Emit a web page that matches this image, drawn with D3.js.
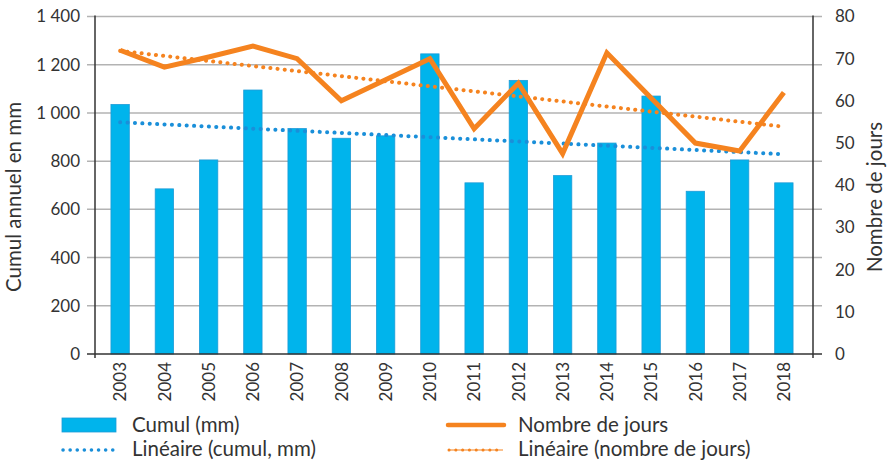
<!DOCTYPE html>
<html>
<head>
<meta charset="utf-8">
<script src="https://cdn.jsdelivr.net/npm/d3@7/dist/d3.min.js"></script>
<style>
  html, body { margin: 0; padding: 0; background: #fff; }
  svg text { font-family: Lato, "Open Sans", sans-serif; fill: #333; }
</style>
</head>
<body>
<svg id="chart" width="890" height="460"></svg>
<script>
// Annual rainfall totals and number of rainy days, 2003-2018
const years = ["2003","2004","2005","2006","2007","2008","2009","2010",
               "2011","2012","2013","2014","2015","2016","2017","2018"];
const cumulMm = [1035, 685, 805, 1095, 935, 895, 905, 1245,
                 710, 1135, 740, 875, 1070, 675, 805, 710];
const nbJours = [72, 68, 70.4, 73, 70, 60, 65, 70,
                 53.4, 64.2, 47.5, 71.4, 60.7, 50, 48.1, 62];
const leftTicks = [0, 200, 400, 600, 800, 1000, 1200, 1400];
const rightTicks = [0, 10, 20, 30, 40, 50, 60, 70, 80];

const svg = d3.select("#chart");
const plotLeft = 95, plotRight = 813, plotTop = 16.5, plotBottom = 354;

const x = d3.scaleBand().domain(years).range([98, 806])
  .paddingInner(0.585).paddingOuter(0.2925);
const yL = d3.scaleLinear().domain([0, 1400]).range([plotBottom, plotTop]);
const yR = d3.scaleLinear().domain([0, 80]).range([plotBottom, plotTop]);
const cx = d => x(d) + x.bandwidth() / 2;

// French thousands separator (space)
const fmt = v => v >= 1000 ? d3.format(",")(v).replace(",", " ") : String(v);

// Gridlines
svg.append("g").selectAll("line").data(leftTicks.filter(d => d > 0)).join("line")
  .attr("x1", plotLeft - 8).attr("x2", plotRight + 9)
  .attr("y1", d => yL(d)).attr("y2", d => yL(d))
  .attr("stroke", "#b3b3b3").attr("stroke-width", 1.5);

// Bars
svg.append("g").selectAll("rect").data(years).join("rect")
  .attr("x", d => x(d)).attr("width", x.bandwidth())
  .attr("y", (d, i) => yL(cumulMm[i]))
  .attr("height", (d, i) => plotBottom - yL(cumulMm[i]))
  .attr("fill", "#00b4ec").attr("stroke", "#1d9bd7").attr("stroke-width", 0.8);

// Linear trend (least squares) helper
function trend(vals) {
  const n = vals.length, mx = (n - 1) / 2, my = d3.mean(vals);
  let sxy = 0, sxx = 0;
  vals.forEach((v, i) => { sxy += (i - mx) * (v - my); sxx += (i - mx) * (i - mx); });
  const b = sxy / sxx;
  return vals.map((v, i) => my + b * (i - mx));
}

const lineL = d3.line().x((d, i) => cx(years[i])).y(d => yL(d));
const lineR = d3.line().x((d, i) => cx(years[i])).y(d => yR(d));

// Trend of rainfall total
svg.append("path").datum(trend(cumulMm)).attr("d", lineL)
  .attr("fill", "none").attr("stroke", "#1a8fd9").attr("stroke-width", 4)
  .attr("stroke-linecap", "round").attr("stroke-dasharray", "0.1 7.3");

// Trend of number of days
svg.append("path").datum(trend(nbJours)).attr("d", lineR)
  .attr("fill", "none").attr("stroke", "#f5831f").attr("stroke-width", 4)
  .attr("stroke-linecap", "round").attr("stroke-dasharray", "0.1 7.1");

// Number of days
svg.append("path").datum(nbJours).attr("d", lineR)
  .attr("fill", "none").attr("stroke", "#f5831f").attr("stroke-width", 5)
  .attr("stroke-linejoin", "miter");

// Axes frame
svg.append("line").attr("x1", plotLeft - 8).attr("x2", plotRight + 9)
  .attr("y1", plotBottom).attr("y2", plotBottom).attr("stroke", "#333").attr("stroke-width", 1.5);
svg.append("line").attr("x1", plotLeft).attr("x2", plotLeft)
  .attr("y1", plotTop - 1).attr("y2", plotBottom + 4).attr("stroke", "#333").attr("stroke-width", 1.5);
svg.append("line").attr("x1", plotRight).attr("x2", plotRight)
  .attr("y1", plotTop - 1).attr("y2", plotBottom + 4).attr("stroke", "#333").attr("stroke-width", 1.5);

// Left axis labels
svg.append("g").selectAll("text").data(leftTicks).join("text")
  .attr("x", 80).attr("y", d => yL(d)).attr("dy", "0.35em")
  .attr("text-anchor", "end").attr("font-size", 17).text(fmt);

// Right axis labels
svg.append("g").selectAll("text").data(rightTicks).join("text")
  .attr("x", 835).attr("y", d => yR(d)).attr("dy", "0.35em")
  .attr("text-anchor", "start").attr("font-size", 17).text(d => d);

// Year labels
svg.append("g").selectAll("text").data(years).join("text")
  .attr("transform", d => `translate(${cx(d)},362) rotate(-90)`)
  .attr("text-anchor", "end").attr("dy", "0.36em")
  .attr("font-size", 17).text(d => d);

// Axis titles
svg.append("text").attr("transform", "translate(14,197) rotate(-90)")
  .attr("text-anchor", "middle").attr("dy", "0.36em").attr("font-size", 20.5)
  .text("Cumul annuel en mm");
svg.append("text").attr("transform", "translate(875,197) rotate(-90)")
  .attr("text-anchor", "middle").attr("dy", "0.36em").attr("font-size", 20.5)
  .text("Nombre de jours");

// Legend
const lg = svg.append("g");
const lfs = 20.5;
lg.append("rect").attr("x", 62).attr("y", 418).attr("width", 54).attr("height", 14)
  .attr("fill", "#00b4ec").attr("stroke", "#1d9bd7").attr("stroke-width", 0.8);
lg.append("text").attr("x", 132).attr("y", 425).attr("dy", "0.36em").attr("font-size", lfs).text("Cumul (mm)");
lg.append("line").attr("x1", 63).attr("x2", 113).attr("y1", 450).attr("y2", 450)
  .attr("stroke", "#1a8fd9").attr("stroke-width", 3.5)
  .attr("stroke-linecap", "round").attr("stroke-dasharray", "0.1 7");
lg.append("text").attr("x", 132).attr("y", 449).attr("dy", "0.36em").attr("font-size", lfs).text("Linéaire (cumul, mm)");

lg.append("line").attr("x1", 448).attr("x2", 504).attr("y1", 425).attr("y2", 425)
  .attr("stroke", "#f5831f").attr("stroke-width", 4.5).attr("stroke-linecap", "round");
lg.append("text").attr("x", 518).attr("y", 425).attr("dy", "0.36em").attr("font-size", lfs).text("Nombre de jours");
lg.append("line").attr("x1", 448).attr("x2", 503).attr("y1", 450).attr("y2", 450)
  .attr("stroke", "#f5831f").attr("stroke-width", 1);
lg.append("line").attr("x1", 449).attr("x2", 503).attr("y1", 450).attr("y2", 450)
  .attr("stroke", "#f5831f").attr("stroke-width", 3)
  .attr("stroke-linecap", "round").attr("stroke-dasharray", "0.1 6.7");
lg.append("text").attr("x", 518).attr("y", 449).attr("dy", "0.36em").attr("font-size", lfs).text("Linéaire (nombre de jours)");
</script>
</body>
</html>
